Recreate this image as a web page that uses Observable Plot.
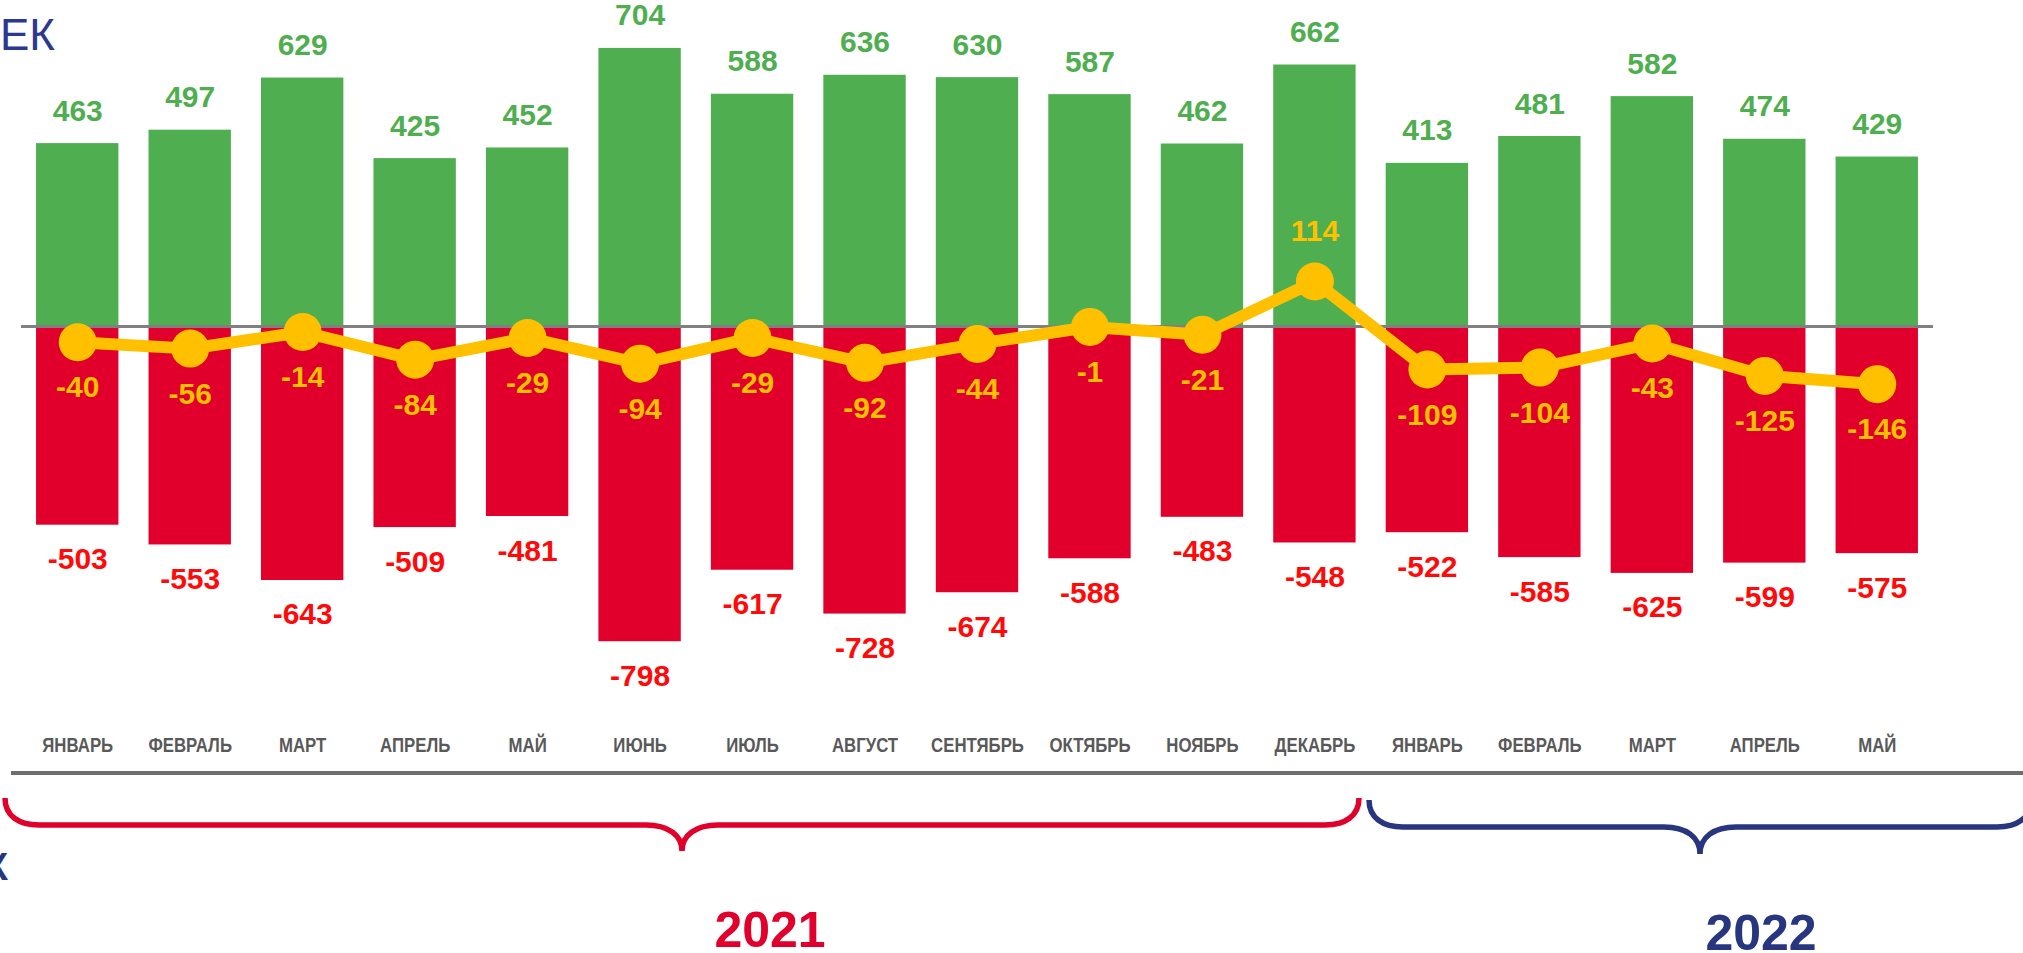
<!DOCTYPE html>
<html><head><meta charset="utf-8">
<script src="https://cdn.jsdelivr.net/npm/d3@7"></script>
<script src="https://cdn.jsdelivr.net/npm/@observablehq/plot@0.6"></script>
<style>
html,body{margin:0;padding:0;background:#fff;overflow:hidden}
#chart svg{display:block}
</style></head><body><div id="chart"></div>
<script>
// ---- data ----
const months = ["ЯНВАРЬ","ФЕВРАЛЬ","МАРТ","АПРЕЛЬ","МАЙ","ИЮНЬ","ИЮЛЬ","АВГУСТ","СЕНТЯБРЬ","ОКТЯБРЬ","НОЯБРЬ","ДЕКАБРЬ","ЯНВАРЬ","ФЕВРАЛЬ","МАРТ","АПРЕЛЬ","МАЙ"];
const inflow = [463,497,629,425,452,704,588,636,630,587,462,662,413,481,582,474,429];
const outflow = [-503,-553,-643,-509,-481,-798,-617,-728,-674,-588,-483,-548,-522,-585,-625,-599,-575];
const net = [-40,-56,-14,-84,-29,-94,-29,-92,-44,-1,-21,114,-109,-104,-43,-125,-146];
const yearLabels = ["2021","2022"];
const topText = "ЕК";
const sideText = "К";

const data = months.map((m,i)=>({i, month:m, inflow:inflow[i], outflow:outflow[i], net:net[i]}));
const fmt = v => String(v);
const W = 2023, H = 953;
const GREEN = "#4fae50", RED = "#e0002b", RED_TXT = "#ff0a0a", YEL = "#ffc000", NAVY = "#27367f";
const VFS = 30;

const chart = Plot.plot({
  width: W, height: H,
  marginLeft: 21, marginRight: 90, marginTop: 0, marginBottom: 180,
  style: {fontFamily: "'Liberation Sans', Arial, sans-serif", background: "#fff", overflow: "visible"},
  x: {type: "band", domain: d3.range(months.length), paddingInner: 0.2676, paddingOuter: 0.1338, round: false, axis: null},
  y: {domain: [-1131.6, 825.3], axis: null},
  marks: [
    Plot.barY(data, {x: "i", y: "inflow", fill: GREEN}),
    Plot.barY(data, {x: "i", y: "outflow", fill: RED}),
    Plot.ruleY([0], {stroke: "#808080", strokeWidth: 3}),
    Plot.line(data, {x: "i", y: "net", stroke: YEL, strokeWidth: 12}),
    Plot.dot(data, {x: "i", y: "net", r: 19, fill: YEL}),
    Plot.text(data, {x: "i", y: "inflow", text: d => fmt(d.inflow), lineAnchor: "bottom", dy: -23, fill: GREEN, fontSize: VFS, fontWeight: "bold"}),
    Plot.text(data, {x: "i", y: "outflow", text: d => fmt(d.outflow), lineAnchor: "bottom", dy: 44, fill: RED_TXT, fontSize: VFS, fontWeight: "bold"}),
    Plot.text(data.filter(d => d.net < 0), {x: "i", y: "net", text: d => fmt(d.net), lineAnchor: "bottom", dy: 55, fill: YEL, fontSize: VFS, fontWeight: "bold"}),
    Plot.text(data.filter(d => d.net >= 0), {x: "i", y: "net", text: d => fmt(d.net), lineAnchor: "bottom", dy: -40, fill: YEL, fontSize: VFS, fontWeight: "bold"}),
    Plot.axisX({tickSize: 0, tickPadding: 0, dy: -36, tickFormat: i => months[i], label: null,
      fontSize: 20, fontWeight: "bold", fill: "#595959", fontFamily: "'Liberation Sans Narrow', 'Arial Narrow', 'Liberation Sans', Arial, sans-serif"})
  ]
});
document.getElementById("chart").appendChild(chart);

// condense the month labels (narrow face is not installed)
d3.select(chart).selectAll('g[aria-label="x-axis tick label"] text').each(function() {
  const t = this.getAttribute("transform") || "";
  this.setAttribute("transform", t + " scale(0.84,1)");
});

// ---- annotations ----
const svg = d3.select(chart);
svg.append("line").attr("x1", 11).attr("x2", W).attr("y1", 773).attr("y2", 773)
  .attr("stroke", "#6e6e6e").attr("stroke-width", 4);

function brace(x0, x1, yTop, yLine, yTip) {
  const xm = (x0 + x1) / 2, r = 34;
  return `M${x0},${yTop} C${x0},${yTop + 18} ${x0 + 14},${yLine} ${x0 + r},${yLine}` +
    ` H${xm - 36} C${xm - 14},${yLine} ${xm},${yLine + 10} ${xm},${yTip}` +
    ` M${xm},${yTip} C${xm},${yLine + 10} ${xm + 14},${yLine} ${xm + 36},${yLine}` +
    ` H${x1 - r} C${x1 - 14},${yLine} ${x1},${yTop + 18} ${x1},${yTop}`;
}
svg.append("path").attr("d", brace(5, 1359, 798, 825, 851))
  .attr("fill", "none").attr("stroke", RED).attr("stroke-width", 5.5);
svg.append("path").attr("d", brace(1369, 2031, 800, 827, 854))
  .attr("fill", "none").attr("stroke", NAVY).attr("stroke-width", 5.5);

const yearStyle = (sel, color) => sel.attr("text-anchor", "middle").attr("font-size", 50)
  .attr("font-weight", "bold").attr("font-family", "'Liberation Sans', Arial, sans-serif").attr("fill", color);
yearStyle(svg.append("text").attr("x", 770).attr("y", 947).text(yearLabels[0]), RED);
yearStyle(svg.append("text").attr("x", 1761).attr("y", 950).text(yearLabels[1]), NAVY);

svg.append("text").attr("x", 0).attr("y", 50).attr("text-anchor", "start").attr("font-size", 44)
  .attr("font-family", "'Liberation Sans', Arial, sans-serif").attr("fill", "#2b3990").text(topText);
svg.append("text").attr("x", 8).attr("y", 880).attr("text-anchor", "end").attr("font-size", 38).attr("font-weight", "bold")
  .attr("font-family", "'Liberation Sans', Arial, sans-serif").attr("fill", NAVY).text(sideText);
</script></body></html>
